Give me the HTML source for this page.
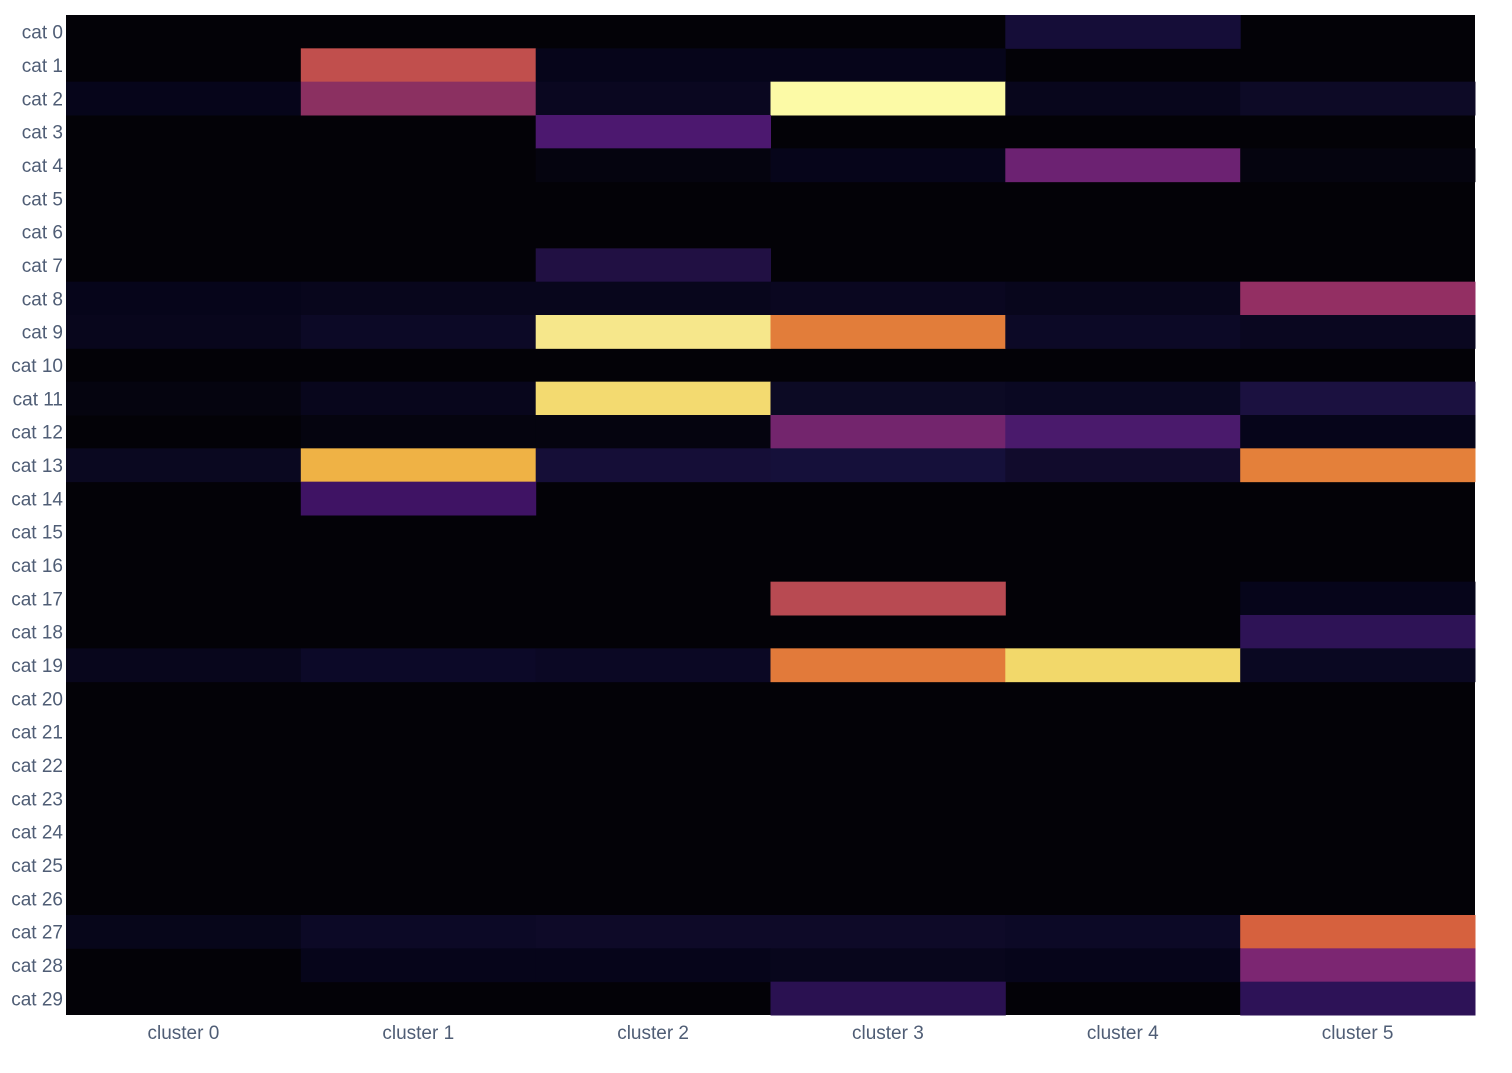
<!DOCTYPE html><html><head><style>body{margin:0;background:#fff}svg text{font-family:"Liberation Sans",sans-serif;font-size:19px;fill:#4f5d75}</style></head><body>
<svg width="1512" height="1068" xmlns="http://www.w3.org/2000/svg">
<rect x="66" y="15" width="1409" height="1000" fill="#030207"/>
<g id="cells"></g>
<g id="lab"></g>
</svg>
<script>
const cx=[66,300.8,535.7,770.5,1005.3,1240.2,1475];
const cells=[[0,4,"#150d38"],[1,1,"#c14f4d"],[1,2,"#06051a"],[1,3,"#06051a"],[2,0,"#06051a"],[2,1,"#8b3061"],[2,2,"#0a0720"],[2,3,"#fcfaa6"],[2,4,"#08061c"],[2,5,"#0d0a26"],[3,2,"#4c186f"],[4,2,"#05040f"],[4,3,"#06051a"],[4,4,"#6c2272"],[4,5,"#05040f"],[7,2,"#211043"],
[8,0,"#06051a"],[8,1,"#08061c"],[8,2,"#08061c"],[8,3,"#0a0720"],[8,4,"#08061c"],[8,5,"#932f63"],[9,0,"#08061c"],[9,1,"#0c0926"],[9,2,"#f6e78b"],[9,3,"#e27d3a"],[9,4,"#0c0926"],[9,5,"#0a0720"],
[11,0,"#05040f"],[11,1,"#08061c"],[11,2,"#f3da70"],[11,3,"#0c0a24"],[11,4,"#0a0822"],[11,5,"#1b1140"],[12,1,"#05040f"],[12,2,"#05040f"],[12,3,"#73256d"],[12,4,"#4a1a6c"],[12,5,"#06051a"],
[13,0,"#0a0820"],[13,1,"#efb245"],[13,2,"#150e37"],[13,3,"#15103a"],[13,4,"#110b2c"],[13,5,"#e4803a"],[14,1,"#3f1364"],[17,3,"#b84a52"],[17,5,"#06051a"],[18,5,"#2e1356"],
[19,0,"#08061c"],[19,1,"#0c0928"],[19,2,"#0b0824"],[19,3,"#e27a3a"],[19,4,"#f2d86a"],[19,5,"#0a0822"],
[27,0,"#07061a"],[27,1,"#0c0926"],[27,2,"#0e0a28"],[27,3,"#0e0a28"],[27,4,"#0c0926"],[27,5,"#d6613e"],[28,1,"#06051a"],[28,2,"#06051a"],[28,3,"#08061c"],[28,4,"#06051a"],[28,5,"#7c2672"],[29,3,"#2a1151"],[29,5,"#2d1257"]];
const rh=1000/30;let s="";
for(const [r,c,col] of cells){s+=`<rect x="${cx[c]}" y="${15+r*rh}" width="${cx[c+1]-cx[c]+0.5}" height="${rh+0.5}" fill="${col}"/>`;}
document.getElementById("cells").innerHTML=s;
let t="";
for(let i=0;i<30;i++)t+=`<text x="63" y="${15+(i+0.5)*rh+7}" text-anchor="end">cat ${i}</text>`;
for(let j=0;j<6;j++)t+=`<text x="${(cx[j]+cx[j+1])/2}" y="1039" text-anchor="middle">cluster ${j}</text>`;
document.getElementById("lab").innerHTML=t;
</script>
</body></html>
